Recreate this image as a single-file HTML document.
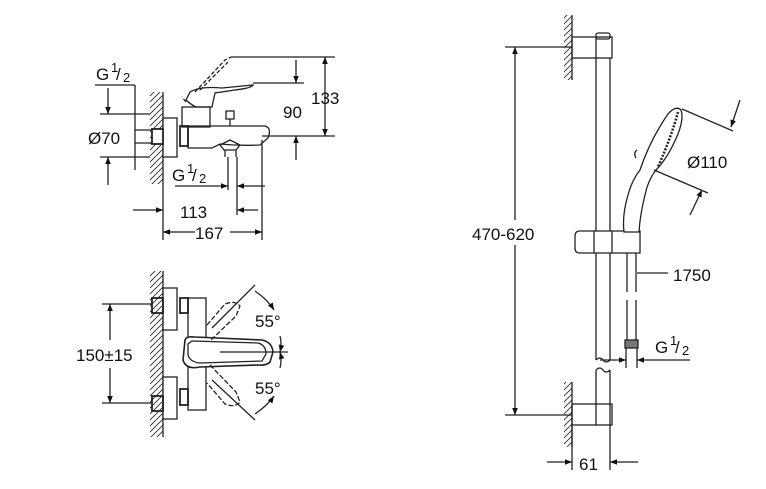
<!DOCTYPE html><html><head><style>body{margin:0;background:#fff}svg{display:block}text{font-family:"Liberation Sans",sans-serif;fill:#111}</style></head><body>
<svg width="766" height="489" viewBox="0 0 766 489" xmlns="http://www.w3.org/2000/svg">
<defs>
<pattern id="h" width="6" height="6" patternUnits="userSpaceOnUse"><path d="M0 6L6 0M-1 1L1 -1M5 7L7 5" stroke="#222" stroke-width="0.8"/></pattern>
<marker id="a" viewBox="0 0 10 10" refX="10" refY="5" markerWidth="11" markerHeight="7" orient="auto-start-reverse" markerUnits="userSpaceOnUse"><path d="M0 1L10 5L0 9Z" fill="#111"/></marker>
</defs>
<g fill="none" stroke="#222" stroke-width="1.3">
<!-- TOP LEFT -->
<rect x="150" y="92" width="13" height="92" fill="url(#h)" stroke="none"/>
<line x1="163" y1="92" x2="163" y2="240"/>
<rect x="163" y="118" width="14" height="39" fill="#fff"/>
<rect x="152" y="129" width="11" height="15" fill="#fff" stroke-width="1.8"/>
<rect x="180" y="126" width="8" height="20" stroke-width="1.8"/>
<rect x="182" y="107" width="28" height="20"/>
<path d="M188 126H265Q272 128 268 138L260 145Q240 146 220 144L212 148H188Z"/>
<path d="M186 100L190 92Q200 86 222 88L253 85Q252 88 235 90L215 93L212 107H196Q190 104 186 100Z"/>
<path d="M186 102L182 97M195 92L225 60L231 57" stroke-dasharray="4 2"/>
<path d="M200 90L228 62" stroke-dasharray="4 2"/>
<rect x="226" y="111" width="8" height="8"/>
<line x1="230" y1="119" x2="230" y2="126"/>
<path d="M220 145L230 140L240 145L236 150H224Z"/>
<line x1="225" y1="150" x2="225" y2="157"/><line x1="236" y1="150" x2="236" y2="157"/>
<line x1="228" y1="157" x2="228" y2="190"/><line x1="237" y1="157" x2="237" y2="215"/>
<line x1="262" y1="140" x2="262" y2="240"/>
<line x1="231" y1="57" x2="335" y2="57"/>
<line x1="253" y1="83" x2="304" y2="83"/>
<line x1="262" y1="136" x2="335" y2="136"/>
<line x1="325" y1="57" x2="325" y2="136" marker-start="url(#a)" marker-end="url(#a)"/>
<line x1="296" y1="60" x2="296" y2="83" marker-end="url(#a)"/>
<line x1="296" y1="160" x2="296" y2="136" marker-end="url(#a)"/>
<line x1="95" y1="85" x2="135" y2="85"/><line x1="135" y1="85" x2="135" y2="170"/>
<line x1="100" y1="114" x2="150" y2="114"/><line x1="100" y1="157" x2="150" y2="157"/>
<line x1="108" y1="88" x2="108" y2="114" marker-end="url(#a)"/>
<line x1="108" y1="185" x2="108" y2="157" marker-end="url(#a)"/>
<line x1="135" y1="130" x2="152" y2="130"/><line x1="135" y1="143" x2="152" y2="143"/>
<line x1="175" y1="186" x2="228" y2="186" marker-end="url(#a)"/>
<line x1="265" y1="186" x2="237" y2="186" marker-end="url(#a)"/>
<line x1="133" y1="210" x2="163" y2="210" marker-end="url(#a)"/>
<line x1="258" y1="210" x2="237" y2="210" marker-end="url(#a)"/>
<line x1="163" y1="232" x2="195" y2="232" marker-start="url(#a)"/>
<line x1="230" y1="232" x2="262" y2="232" marker-end="url(#a)"/>
<!-- BOTTOM LEFT -->
<rect x="150" y="271" width="13" height="166" fill="url(#h)" stroke="none"/>
<line x1="163" y1="271" x2="163" y2="437"/>
<rect x="163" y="288" width="14" height="42" fill="#fff"/>
<rect x="163" y="377" width="14" height="42" fill="#fff"/>
<rect x="152" y="298" width="11" height="15" stroke-width="1.8"/>
<rect x="152" y="396" width="11" height="15" stroke-width="1.8"/>
<rect x="180" y="298" width="8" height="15" stroke-width="1.8"/>
<rect x="180" y="389" width="8" height="16" stroke-width="1.8"/>
<rect x="188" y="298" width="18" height="112"/>
<path d="M185 340Q186 336 195 337L262 340Q272 342 273 352L270 362Q266 366 258 365L200 367Q186 370 183 360Z" fill="#fff" stroke-width="1.6"/>
<path d="M188 344L192 341L258 343Q266 345 266 354L262 361L200 363Q190 362 188 355Z"/>
<path d="M207 325L225 304Q235 300 240 306L236 316L210 341" stroke-dasharray="5 2"/>
<path d="M210 365L236 392L240 402Q235 408 225 404L207 383" stroke-dasharray="5 2"/>
<line x1="212" y1="380" x2="255" y2="420"/><line x1="212" y1="328" x2="255" y2="285"/>
<line x1="220" y1="352" x2="288" y2="352"/>
<path d="M255 291Q268 300 274 310" marker-end="url(#a)"/>
<path d="M280 336Q282 343 280 352" marker-end="url(#a)"/>
<path d="M280 368Q282 360 280 352" marker-end="url(#a)"/>
<path d="M255 414Q268 405 274 396" marker-end="url(#a)"/>
<line x1="102" y1="304" x2="152" y2="304"/><line x1="102" y1="403" x2="152" y2="403"/>
<line x1="110" y1="304" x2="110" y2="340" marker-start="url(#a)"/>
<line x1="110" y1="368" x2="110" y2="403" marker-end="url(#a)"/>
<!-- RIGHT -->
<rect x="564" y="15" width="8" height="65" fill="url(#h)" stroke="none"/>
<line x1="572" y1="15" x2="572" y2="80"/>
<rect x="564" y="382" width="8" height="65" fill="url(#h)" stroke="none"/>
<line x1="572" y1="382" x2="572" y2="447"/>
<rect x="572" y="37" width="40" height="21"/><line x1="596" y1="37" x2="596" y2="58"/>
<rect x="596" y="33" width="14" height="6" rx="2"/>
<line x1="596" y1="58" x2="596" y2="360"/><line x1="610" y1="58" x2="610" y2="360"/>
<line x1="596" y1="370" x2="596" y2="404"/><line x1="610" y1="370" x2="610" y2="404"/>
<path d="M596 360Q600 356 603 360Q606 364 610 360M596 370Q600 366 603 370Q606 374 610 370"/>
<rect x="572" y="404" width="40" height="21"/><line x1="596" y1="404" x2="596" y2="425"/>
<path d="M580 231H640V253H580Q575 253 575 248V236Q575 231 580 231Z" fill="#fff"/>
<line x1="594" y1="231" x2="594" y2="253"/><line x1="612" y1="231" x2="612" y2="253"/>
<line x1="627" y1="253" x2="627" y2="292"/><line x1="636" y1="253" x2="636" y2="292"/>
<line x1="627" y1="300" x2="627" y2="340"/><line x1="636" y1="300" x2="636" y2="340"/>
<rect x="625" y="340" width="13" height="8" fill="#777"/>
<line x1="626" y1="348" x2="626" y2="368"/><line x1="637" y1="348" x2="637" y2="368"/>
<path d="M624 232Q622 215 628 195Q632 180 640 170Q650 140 668 114Q676 105 681 110Q684 118 678 134Q668 158 656 170Q648 180 645 195Q640 215 639 232Z" fill="#fff"/>
<path d="M678 112Q672 135 658 167" stroke-width="2.5" stroke-dasharray="2 1.5"/>
<path d="M637 150Q633 153 636 158"/>
<line x1="682" y1="109" x2="733" y2="131"/><line x1="654" y1="170" x2="708" y2="193"/>
<line x1="740" y1="100" x2="731" y2="127" marker-end="url(#a)"/>
<line x1="690" y1="215" x2="702" y2="190" marker-end="url(#a)"/>
<line x1="505" y1="47" x2="572" y2="47"/><line x1="505" y1="415" x2="572" y2="415"/>
<line x1="515" y1="47" x2="515" y2="220" marker-start="url(#a)"/>
<line x1="515" y1="245" x2="515" y2="415" marker-end="url(#a)"/>
<line x1="637" y1="273" x2="668" y2="273"/>
<line x1="600" y1="360" x2="626" y2="360" marker-end="url(#a)"/>
<line x1="690" y1="360" x2="637" y2="360" marker-end="url(#a)"/>
<line x1="572" y1="425" x2="572" y2="470"/><line x1="610" y1="404" x2="610" y2="470"/>
<line x1="547" y1="462" x2="572" y2="462" marker-end="url(#a)"/>
<line x1="638" y1="462" x2="610" y2="462" marker-end="url(#a)"/>
</g>
<g font-size="17">
<text x="96" y="80">G</text><text x="111" y="72" font-size="13">1</text><text x="116" y="80">/</text><text x="123" y="82" font-size="13">2</text>
<text x="88" y="144">Ø70</text>
<text x="172" y="181">G</text><text x="187" y="173" font-size="13">1</text><text x="192" y="181">/</text><text x="199" y="183" font-size="13">2</text>
<text x="283" y="118">90</text><text x="311" y="104">133</text>
<text x="180" y="218">113</text><text x="195" y="239">167</text>
<text x="255" y="327">55°</text><text x="255" y="394">55°</text>
<text x="76" y="361">150±15</text>
<text x="472" y="240">470-620</text>
<text x="687" y="168">Ø110</text>
<text x="673" y="281">1750</text>
<text x="655" y="353">G</text><text x="670" y="345" font-size="13">1</text><text x="675" y="353">/</text><text x="682" y="355" font-size="13">2</text>
<text x="579" y="470">61</text>
</g>
</svg></body></html>
